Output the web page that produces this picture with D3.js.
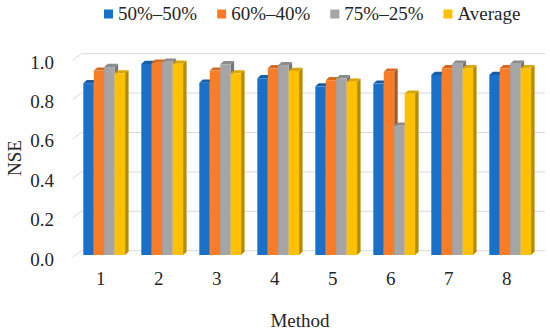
<!DOCTYPE html>
<html>
<head>
<meta charset="utf-8">
<script src="https://cdn.jsdelivr.net/npm/d3@7"></script>
<style>
  body { margin: 0; background: #fff; }
  svg text { font-family: "Liberation Serif", "Times New Roman", serif; fill: #262626; }
</style>
</head>
<body>
<svg id="chart" width="550" height="331"></svg>
<script>
// chart data
const methods = ['1', '2', '3', '4', '5', '6', '7', '8'];
const seriesNames = ['50%–50%', '60%–40%', '75%–25%', 'Average'];
const nse5050 = [0.872, 0.970, 0.875, 0.897, 0.856, 0.870, 0.914, 0.914];
const nse6040 = [0.936, 0.976, 0.936, 0.948, 0.887, 0.930, 0.948, 0.948];
const nse7525 = [0.954, 0.981, 0.968, 0.964, 0.897, 0.656, 0.971, 0.971];
const nseAvg  = [0.922, 0.971, 0.922, 0.934, 0.880, 0.819, 0.948, 0.948];
const yTicks = [0, 0.2, 0.4, 0.6, 0.8, 1.0];

const seriesValues = [nse5050, nse6040, nse7525, nseAvg];
const front = ['#1870c8', '#f97d26', '#a5a5a5', '#ffc000'];
const topC  = ['#145ea9', '#d9691d', '#8c8c8c', '#dba600'];
const sideC = ['#0e4c8a', '#b4561a', '#767676', '#b58b00'];

const svg = d3.select('#chart');

// scales
const y = d3.scaleLinear().domain([0, 1]).range([255, 58]);
const x0 = d3.scaleBand().domain(methods).range([75.2, 539.2])
  .paddingInner(0.28).paddingOuter(0.14);
const x1 = d3.scaleBand().domain(seriesNames).range([0, x0.bandwidth()]);

// depth of the 3d look
const dx = 3.5, dy = 3.2;
// wall / floor perspective
const wallFrontX = 72.5, wallBackX = 81.5, wallRight = 545;

// gridlines (back wall + left slant)
const grid = svg.append('g');
yTicks.forEach(v => {
  const yb = y(v) - 4.3;
  grid.append('path')
    .attr('d', `M${wallFrontX},${y(v) + 2.3}L${wallBackX},${yb}L${wallRight},${yb}`)
    .attr('fill', 'none')
    .attr('stroke', '#d9d9d9')
    .attr('stroke-width', 1);
});

// bars, drawn left to right so neighbours cover side faces
const bars = svg.append('g');
methods.forEach((m, i) => {
  seriesNames.forEach((s, j) => {
    const v = seriesValues[j][i];
    const bx = x0(m) + x1(s);
    const bw = x1.bandwidth();
    const yt = y(v), yb = y(0);
    const g = bars.append('g');
    g.append('path')
      .attr('d', `M${bx + bw},${yb}L${bx + bw + dx},${yb - dy}L${bx + bw + dx},${yt - dy}L${bx + bw},${yt}Z`)
      .attr('fill', sideC[j]);
    g.append('path')
      .attr('d', `M${bx},${yt}L${bx + dx},${yt - dy}L${bx + bw + dx},${yt - dy}L${bx + bw},${yt}Z`)
      .attr('fill', topC[j]);
    g.append('rect')
      .attr('x', bx).attr('y', yt)
      .attr('width', bw).attr('height', yb - yt)
      .attr('fill', front[j]);
  });
});

// y axis labels
const yAxis = svg.append('g')
  .attr('transform', 'translate(54,4)')
  .call(d3.axisLeft(y).tickValues(yTicks).tickFormat(d3.format('.1f')).tickSize(0).tickPadding(0));
yAxis.attr('font-family', null).attr('font-size', null);
yAxis.select('.domain').remove();
yAxis.selectAll('text').style('font-size', '19px').attr('fill', '#262626');

// x axis labels
const xAxis = svg.append('g')
  .attr('transform', 'translate(-3.5,271)')
  .call(d3.axisBottom(x0).tickSize(0).tickPadding(0));
xAxis.attr('font-family', null).attr('font-size', null);
xAxis.select('.domain').remove();
xAxis.selectAll('text').style('font-size', '19px').attr('fill', '#262626');

// axis titles
svg.append('text')
  .attr('transform', 'translate(21,158) rotate(-90)')
  .attr('text-anchor', 'middle')
  .style('font-size', '19px')
  .text('NSE');
svg.append('text')
  .attr('x', 300).attr('y', 327)
  .attr('text-anchor', 'middle')
  .style('font-size', '19px')
  .text('Method');

// legend
const legend = svg.append('g');
let lx = 104;
seriesNames.forEach((s, j) => {
  legend.append('rect')
    .attr('x', lx).attr('y', 9.5)
    .attr('width', 9).attr('height', 9)
    .attr('fill', front[j]);
  const t = legend.append('text')
    .attr('x', lx + 14).attr('y', 19.5)
    .style('font-size', '19px')
    .text(s);
  lx += 14 + t.node().getComputedTextLength() + 20;
});
</script>
</body>
</html>
